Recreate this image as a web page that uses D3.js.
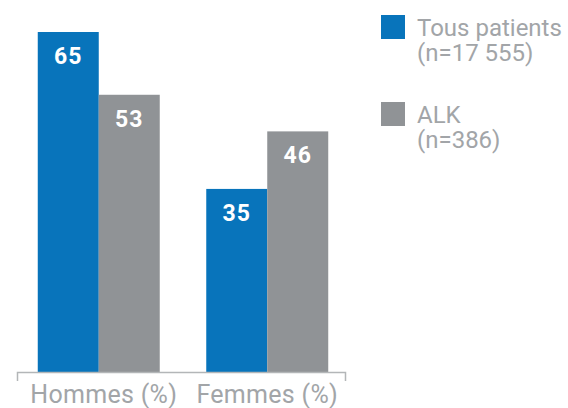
<!DOCTYPE html>
<html>
<head>
<meta charset="utf-8">
<script src="https://cdn.jsdelivr.net/npm/d3@7"></script>
<style>
  body { margin: 0; background: #fff; }
  svg { display: block; font-family: Roboto, "Liberation Sans", sans-serif; }
</style>
</head>
<body>
<svg id="chart" width="568" height="408"></svg>
<script>
var categories = ['Hommes (%)', 'Femmes (%)'];
var seriesNames = ['Tous patients', 'ALK'];
var seriesCounts = ['(n=17 555)', '(n=386)'];
var tousPatients = [65, 35];
var alk = [53, 46];

var colors = ['#0874bb', '#909396'];

var svg = d3.select('#chart');

// group scale (outer) and series scale (inner)
var x0 = d3.scaleBand()
    .domain(categories)
    .range([14, 352])
    .paddingInner(0.276)
    .paddingOuter(0.141);

var x1 = d3.scaleBand()
    .domain(seriesNames)
    .range([0, x0.bandwidth()]);

var y = d3.scaleLinear()
    .domain([0, 65])
    .range([372, 32]);

var rows = categories.map(function(c, i) {
    return {cat: c, values: [tousPatients[i], alk[i]]};
});

var groups = svg.selectAll('g.group')
    .data(rows)
    .enter().append('g')
    .attr('class', 'group')
    .attr('transform', function(d) { return 'translate(' + x0(d.cat) + ',0)'; });

groups.selectAll('rect')
    .data(function(d) { return d.values.map(function(v, j) { return {s: seriesNames[j], v: v, j: j}; }); })
    .enter().append('rect')
    .attr('x', function(d) { return x1(d.s); })
    .attr('width', x1.bandwidth())
    .attr('y', function(d) { return y(d.v); })
    .attr('height', function(d) { return y(0) - y(d.v); })
    .attr('fill', function(d) { return colors[d.j]; });

groups.selectAll('text.val')
    .data(function(d) { return d.values.map(function(v, j) { return {s: seriesNames[j], v: v}; }); })
    .enter().append('text')
    .attr('class', 'val')
    .attr('x', function(d) { return x1(d.s) + x1.bandwidth() / 2; })
    .attr('y', function(d) { return y(d.v) + 32; })
    .attr('text-anchor', 'middle')
    .attr('fill', '#fff')
    .style('font-weight', 'bold')
    .style('font-size', '23px')
    .style('letter-spacing', '1px')
    .text(function(d) { return d.v; });

// baseline with end ticks
var axisColor = '#b3b6b8';
svg.append('path')
    .attr('d', 'M17.5,381V372.5H345.5V381')
    .attr('fill', 'none')
    .attr('stroke', axisColor)
    .attr('stroke-width', 1.5);

svg.selectAll('text.cat')
    .data(categories)
    .enter().append('text')
    .attr('class', 'cat')
    .attr('x', function(d, i) { return x0(d) + x0.bandwidth() / 2 + (i === 0 ? 5 : 0); })
    .attr('y', 403)
    .attr('text-anchor', 'middle')
    .attr('fill', '#a2a5a8')
    .style('font-size', '25px')
    .style('letter-spacing', '0.3px')
    .text(function(d) { return d; });

// legend
var legend = svg.selectAll('g.legend')
    .data(seriesNames)
    .enter().append('g')
    .attr('class', 'legend')
    .attr('transform', function(d, i) { return 'translate(381,' + (15 + i * 87) + ')'; });

legend.append('rect')
    .attr('width', 24)
    .attr('height', 24)
    .attr('fill', function(d, i) { return colors[i]; });

legend.append('text')
    .attr('x', 36)
    .attr('y', 21)
    .attr('fill', '#a2a5a8')
    .style('font-size', '24px')
    .text(function(d) { return d; });

legend.append('text')
    .attr('x', 36)
    .attr('y', 46)
    .attr('fill', '#a2a5a8')
    .style('font-size', '24px')
    .text(function(d, i) { return seriesCounts[i]; });
</script>
</body>
</html>
